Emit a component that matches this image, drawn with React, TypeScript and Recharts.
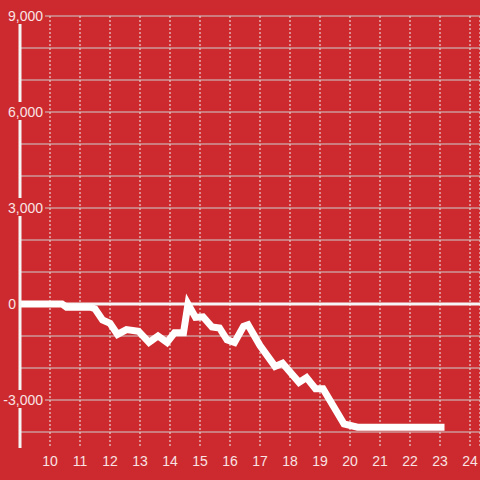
import { LineChart, Line, XAxis, YAxis, CartesianGrid, ReferenceLine } from 'recharts';

const BG = '#cc2a2f';
const TEXT = '#f9e3e3';
const FONT = '"Liberation Sans", Arial, sans-serif';

const DAY = [
  9, 10.4, 10.55, 11.35, 11.5, 11.75, 12.0, 12.25, 12.55, 12.95, 13.3, 13.6, 13.9,
  14.15, 14.45, 14.6, 14.85, 15.1, 15.4, 15.65, 15.9, 16.15, 16.45, 16.6, 17.0,
  17.5, 17.75, 18.3, 18.55, 18.85, 19.1, 19.8, 20.25, 23.15,
];
const VALUE = [
  0, 0, -100, -100, -150, -500, -600, -950, -800, -850, -1200, -1000, -1200,
  -900, -900, 0, -420, -400, -720, -750, -1120, -1200, -700, -650, -1300,
  -1950, -1850, -2450, -2300, -2650, -2650, -3750, -3850, -3850,
];
const X_TICKS = [10, 11, 12, 13, 14, 15, 16, 17, 18, 19, 20, 21, 22, 23, 24];
const Y_TICKS = [-3000, 0, 3000, 6000, 9000];
const Y_GRID = [-4000, -3000, -2000, -1000, 1000, 2000, 3000, 4000, 5000, 6000, 7000, 8000, 9000];

const data = DAY.map((x, i) => ({ x, y: VALUE[i] }));

function YTick(props: any) {
  const { y, payload } = props;
  const v = payload.value as number;
  const label = v.toLocaleString('en-US');
  if (v === 0) {
    return (
      <g>
        <rect x={5} y={y - 10} width={12} height={18} fill={BG} />
        <text x={16} y={y} dy="0.35em" textAnchor="end" fill={TEXT} fontSize={14} fontFamily={FONT}>{label}</text>
      </g>
    );
  }
  return (
    <g>
      <rect x={0} y={y - 10} width={45} height={18} fill={BG} />
      <text x={43} y={y} dy="0.35em" textAnchor="end" fill={TEXT} fontSize={14} fontFamily={FONT}>{label}</text>
    </g>
  );
}

export default function App() {
  return (
    <div style={{ position: 'absolute', left: 0, top: 0, width: 480, height: 480, background: BG }}>
      <LineChart width={480} height={480} data={data} margin={{ top: 16, right: 0, left: 0, bottom: 0 }}>
        <CartesianGrid horizontal={false} stroke="#f2f2f2" strokeDasharray="2 2" />
        {Y_GRID.map(v => (
          <ReferenceLine key={v} y={v} stroke="#cfcfcf" strokeWidth={1} />
        ))}
        <ReferenceLine y={0} stroke="#f5f5f5" strokeWidth={3} />
        <XAxis
          dataKey="x"
          type="number"
          domain={[9, 24.333]}
          ticks={X_TICKS}
          allowDataOverflow
          axisLine={false}
          tickLine={false}
          height={32}
          tick={{ fill: TEXT, fontSize: 14, fontFamily: FONT }}
        />
        <YAxis
          type="number"
          domain={[-4500, 9000]}
          ticks={Y_TICKS}
          width={20}
          axisLine={{ stroke: '#f5f5f5', strokeWidth: 3 }}
          tickLine={false}
          tick={<YTick />}
        />
        <Line
          type="linear"
          dataKey="y"
          stroke="#ffffff"
          strokeWidth={7}
          dot={false}
          isAnimationActive={false}
        />
      </LineChart>
    </div>
  );
}
